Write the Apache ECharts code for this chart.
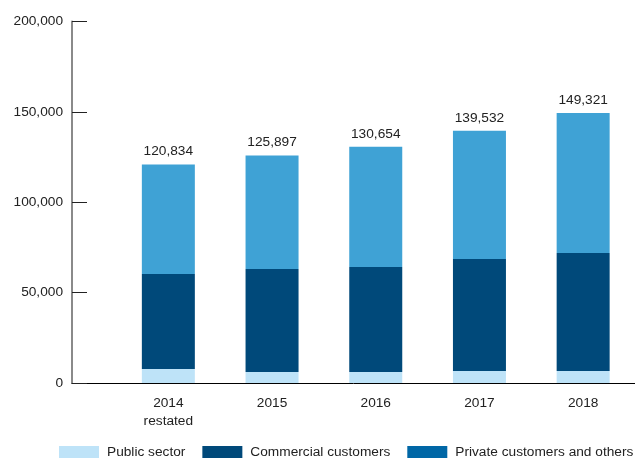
<!DOCTYPE html>
<html>
<head>
<meta charset="utf-8">
<script src="https://cdn.jsdelivr.net/npm/echarts@6/dist/echarts.min.js"></script>
<style>
  html, body { margin: 0; padding: 0; background: #fff; }
  #chart { width: 635px; height: 461px; }
</style>
</head>
<body>
<div id="chart"></div>
<script>
// Revenue split by customer group, 2014–2018
const years = ['2014\nrestated', '2015', '2016', '2017', '2018'];
const publicSector = [7750, 6090, 6090, 6640, 6640];
const commercial = [52550, 56980, 58090, 61960, 65280];
const privateOthers = [60534, 62827, 66474, 70932, 77401];
const yTicks = [0, 50000, 100000, 150000, 200000];

const seriesNames = ['Public sector', 'Commercial customers', 'Private customers and others'];
const colors = ['#BEE3F8', '#00497A', '#3FA2D5'];
const legendPrivateColor = '#0067A6';

const fmt = v => v.toLocaleString('en-US');
const font = 'Liberation Sans, Arial, sans-serif';
const textColor = '#222';
const fontSize = 13.7;

const chart = echarts.init(document.getElementById('chart'), null, { renderer: 'canvas' });

const stackTotal = i => publicSector[i] + commercial[i] + privateOthers[i];

chart.setOption({
  animation: false,
  textStyle: { fontFamily: font },
  grid: [
    // frame grid: carries the value axis and the full-width baseline
    { left: 72, right: 0, top: 21.5, bottom: 78 },
    // plot grid: where the bars sit
    { left: 116.5, right: -1.5, top: 21.5, bottom: 78 }
  ],
  xAxis: [
    {
      gridIndex: 0, type: 'value', min: 0, max: 1,
      axisLine: { show: true, lineStyle: { color: '#000', width: 1 } },
      axisTick: { show: false }, axisLabel: { show: false }, splitLine: { show: false }
    },
    {
      gridIndex: 1, type: 'category', data: years,
      axisLine: { show: false }, axisTick: { show: false },
      axisLabel: { color: textColor, fontSize: fontSize, fontFamily: font, margin: 11, lineHeight: 18 }
    }
  ],
  yAxis: [
    {
      gridIndex: 0, type: 'value', min: yTicks[0], max: yTicks[yTicks.length - 1],
      interval: yTicks[1] - yTicks[0],
      axisLine: { show: true, lineStyle: { color: '#8a8a8a', width: 2 } },
      axisTick: { show: true, inside: true, length: 15, lineStyle: { color: '#222', width: 1 } },
      axisLabel: { color: textColor, fontSize: fontSize, fontFamily: font, margin: 9, formatter: v => fmt(v) },
      splitLine: { show: false }
    },
    {
      gridIndex: 1, type: 'value', min: yTicks[0], max: yTicks[yTicks.length - 1],
      show: false, splitLine: { show: false }
    }
  ],
  legend: {
    left: 59, top: 445, icon: 'rect', padding: 0,
    itemWidth: 40, itemHeight: 12, itemGap: 17,
    textStyle: { color: textColor, fontSize: fontSize, fontFamily: font, padding: [0, 0, 0, 3] },
    data: [
      { name: seriesNames[0] },
      { name: seriesNames[1] },
      { name: seriesNames[2], itemStyle: { color: legendPrivateColor } }
    ]
  },
  series: [
    {
      name: seriesNames[0], type: 'bar', stack: 'total', xAxisIndex: 1, yAxisIndex: 1,
      barWidth: 53, data: publicSector, itemStyle: { color: colors[0] }
    },
    {
      name: seriesNames[1], type: 'bar', stack: 'total', xAxisIndex: 1, yAxisIndex: 1,
      barWidth: 53, data: commercial, itemStyle: { color: colors[1] }
    },
    {
      name: seriesNames[2], type: 'bar', stack: 'total', xAxisIndex: 1, yAxisIndex: 1,
      barWidth: 53, data: privateOthers, itemStyle: { color: colors[2] },
      label: {
        show: true, position: 'top', distance: 6,
        color: textColor, fontSize: fontSize, fontFamily: font,
        formatter: p => fmt(stackTotal(p.dataIndex))
      }
    }
  ]
});
</script>
</body>
</html>
